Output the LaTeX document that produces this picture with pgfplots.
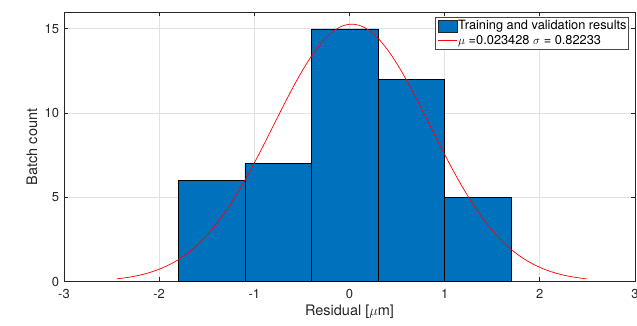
\documentclass[border=0pt]{standalone}
\usepackage{pgfplots}
\pgfplotsset{compat=1.18}
\usepackage{fontspec}
\setmainfont{TeX Gyre Heros}
\definecolor{mblue}{rgb}{0,0.447,0.741}
\definecolor{axgray}{RGB}{38,38,38}
\definecolor{gridgray}{RGB}{225,225,225}
\begin{document}
\begin{tikzpicture}
\begin{axis}[
  scale only axis, width=571bp, height=269.7bp,
  xmin=-3, xmax=3, ymin=0, ymax=16,
  xtick={-3,-2,-1,0,1,2,3}, ytick={0,5,10,15},
  grid=major, major grid style={gridgray, line width=0.8bp},
  axis line style={axgray, line width=0.9bp},
  tick style={axgray, line width=0.9bp},
  major tick length=4.5bp,
  tick align=inside,
  ticklabel style={font=\fontsize{13bp}{15bp}\selectfont, text=axgray},
  xticklabel style={yshift=-4bp},
  yticklabel style={xshift=-1.5bp},
  /pgf/number format/assume math mode=true,
  xlabel={Residual [$\mu$m]}, ylabel={Batch count},
  label style={font=\fontsize{14.5bp}{16bp}\selectfont, text=axgray},
  xlabel style={at={(axis description cs:0.5,-0.1124)}, anchor=center},
  ylabel style={at={(axis description cs:-0.05604,0.5)}, anchor=center},
  legend style={at={(rel axis cs:0.9895,0.981)}, anchor=north east,
    draw=axgray!85, line width=0.9bp, font=\fontsize{12.8bp}{13bp}\selectfont,
    inner xsep=1.5bp, inner ysep=1.5bp, row sep=1bp,
    nodes={inner xsep=0.5bp, inner ysep=1.5bp}},
  legend cell align=left,
]
\addplot[ybar interval, fill=mblue, draw=black, line width=0.5bp,
  legend image code/.code={\fill[mblue, draw=axgray, line width=0.6bp] (0bp,-6bp) rectangle (19bp,6bp);}]
  coordinates {(-1.8,6) (-1.1,7) (-0.4,15) (0.3,12) (1.0,5) (1.7,5)};
\addlegendentry{Training and validation results}
\addplot[red, line width=0.7bp, smooth, mark=none,
  legend image code/.code={\draw[red, line width=1.4bp] (0bp,0bp) -- (19bp,0bp);}] coordinates {
(-2.4436,0.170) (-2.3766,0.216) (-2.2766,0.306) (-2.1766,0.426) (-2.0766,0.586)
(-1.9766,0.794) (-1.8766,1.059) (-1.7766,1.392) (-1.6766,1.804) (-1.5766,2.302)
(-1.4766,2.895) (-1.3766,3.587) (-1.2766,4.380) (-1.1766,5.269) (-1.0766,6.246)
(-0.9766,7.295) (-0.8766,8.395) (-0.7766,9.519) (-0.6766,10.636) (-0.5766,11.709)
(-0.4766,12.701) (-0.3766,13.575) (-0.2766,14.296) (-0.1766,14.835) (-0.0766,15.167)
(0.0234,15.280)
(0.1234,15.167) (0.2234,14.835) (0.3234,14.296) (0.4234,13.575) (0.5234,12.701)
(0.6234,11.709) (0.7234,10.636) (0.8234,9.519) (0.9234,8.395) (1.0234,7.295)
(1.1234,6.246) (1.2234,5.269) (1.3234,4.380) (1.4234,3.587) (1.5234,2.895)
(1.6234,2.302) (1.7234,1.804) (1.8234,1.392) (1.9234,1.059) (2.0234,0.794)
(2.1234,0.586) (2.2234,0.426) (2.3234,0.306) (2.4234,0.216) (2.4904,0.170)
};
\addlegendentry{$\mu$ =0.023428 $\sigma$ = 0.82233}
\end{axis}
\pgfresetboundingbox
\path ([shift={(-64bp,-44.3bp)}]current axis.south west) rectangle ([shift={(2bp,12bp)}]current axis.north east);
\end{tikzpicture}
\end{document}
